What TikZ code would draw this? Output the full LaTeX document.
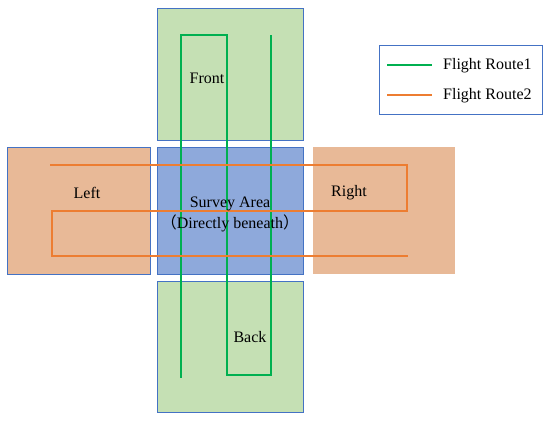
\documentclass[tikz,border=0pt]{standalone}
\usepackage{fontspec}
\setmainfont{Liberation Serif}
\newfontfamily\cjk{Noto Sans CJK SC}
\usetikzlibrary{positioning}

\definecolor{areablue}{HTML}{8EA9DB}
\definecolor{sidegreen}{HTML}{C5E0B4}
\definecolor{sideorange}{HTML}{E8B997}
\definecolor{edgeblue}{HTML}{4472C4}
\definecolor{routegreen}{HTML}{00B050}
\definecolor{routeorange}{HTML}{ED7D31}

\tikzset{
  area/.style={draw=edgeblue, line width=0.8pt, inner sep=0pt},
  lbl/.style={font=\fontsize{16}{19}\selectfont, inner sep=0pt},
  route1/.style={routegreen, line width=2pt},
  route2/.style={routeorange, line width=2pt}
}

\begin{document}
\begin{tikzpicture}[x=1pt,y=-1pt]
  \useasboundingbox (0,0) rectangle (550,422);

  % the five areas
  \node[area, fill=sidegreen, minimum width=146pt, minimum height=132pt] (front) at (230,74) {};
  \node[area, fill=areablue, minimum width=146pt, minimum height=127pt] (survey) at (230,210.5) {};
  \node[area, fill=sidegreen, minimum width=146pt, minimum height=131pt] (back) at (230,346.5) {};
  \node[area, fill=sideorange, minimum width=143pt, minimum height=127pt] (left) at (78.5,210.5) {};
  \node[fill=sideorange, inner sep=0pt, minimum width=142pt, minimum height=127pt] (right) at (384,210.5) {};

  % route 1
  \coordinate (g1) at (181,378);
  \coordinate (g2) at (181,35);
  \coordinate (g3) at (227,35);
  \coordinate (g4) at (227,375);
  \coordinate (g5) at (271,375);
  \coordinate (g6) at (271,35);
  \draw[route1] (g1) -- (g2) -- (g3) -- (g4) -- (g5) -- (g6);

  % route 2
  \coordinate (o1) at (50,165);
  \coordinate (o2) at (407,165);
  \coordinate (o3) at (407,211);
  \coordinate (o4) at (52,211);
  \coordinate (o5) at (52,256);
  \coordinate (o6) at (408,256);
  \draw[route2] (o1) -- (o2) -- (o3) -- (o4) -- (o5) -- (o6);

  % labels
  \node[lbl] (tfront) at (207,78) {Front};
  \node[lbl] (tleft) at (87,193) {Left};
  \node[lbl] (tright) at (349,193) {Right};
  \node[lbl] (tsurvey) at (230,204) {Survey Area};
  \node[lbl] (tbeneath) at (230,223) {{\cjk （}Directly beneath{\cjk ）}};
  \node[lbl] (tback) at (250,337) {Back};

  % legend
  \node[area, minimum width=163pt, minimum height=69pt] (legend) at (460.5,79.5) {};
  \coordinate (l1a) at (387,65);
  \coordinate (l1b) at (432,65);
  \coordinate (l2a) at (387,95);
  \coordinate (l2b) at (432,95);
  \draw[route1] (l1a) -- (l1b);
  \draw[route2] (l2a) -- (l2b);
  \node[lbl, anchor=west] (tr1) at (443,66) {Flight Route1};
  \node[lbl, anchor=west] (tr2) at (443,96) {Flight Route2};
\end{tikzpicture}
\end{document}
